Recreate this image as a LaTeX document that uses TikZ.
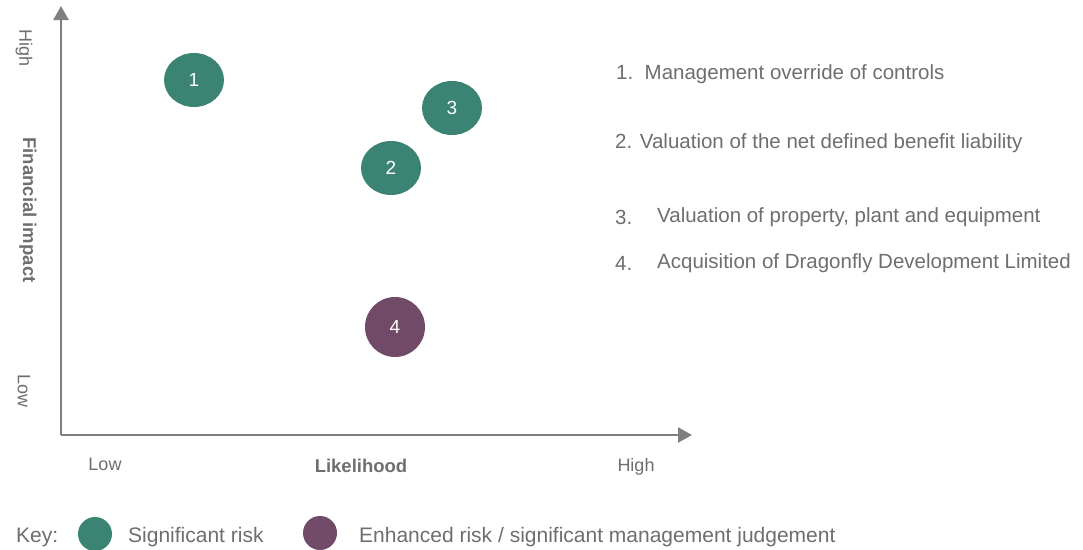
\documentclass[tikz,border=0pt]{standalone}
\usepackage{fontspec}
\setmainfont{Liberation Sans}
\usetikzlibrary{arrows.meta,shapes.geometric}
\definecolor{teal1}{HTML}{3B8373}
\definecolor{plum1}{HTML}{714A67}
\definecolor{axisgray}{HTML}{7F7F7F}
\definecolor{txtgray}{HTML}{6E6E6E}
\tikzset{
  axisline/.style={draw=axisgray, line width=2.5pt, -{Triangle[length=14pt,width=15pt]}},
  riskdot/.style={ellipse, minimum width=60pt, minimum height=54pt, inner sep=0pt, text=white, font=\fontsize{19}{19}\selectfont},
  sigrisk/.style={riskdot, fill=teal1},
  enhrisk/.style={riskdot, fill=plum1, minimum height=60pt},
  keydot/.style={ellipse, minimum width=34pt, minimum height=34pt, inner sep=0pt},
  axlabel/.style={text=txtgray, font=\fontsize{18}{18}\selectfont, inner sep=0pt},
  axtitle/.style={text=txtgray, font=\fontsize{18.5}{18.5}\selectfont\bfseries, inner sep=0pt},
  listtext/.style={text=txtgray, font=\fontsize{20.5}{20.5}\selectfont, anchor=west, inner sep=0pt},
  keytext/.style={text=txtgray, font=\fontsize{21}{21}\selectfont, anchor=west, inner sep=0pt}
}
\begin{document}
\begin{tikzpicture}[x=1pt,y=-1pt]
\useasboundingbox (0,0) rectangle (1083,549);
% axes
\coordinate (origin) at (61,435);
\coordinate (ytip) at (61,6);
\coordinate (xtip) at (692,435);
\draw[axisline] (origin) -- (ytip);
\draw[axisline] (origin) -- (xtip);
% axis labels
\node[axlabel, rotate=-90] (yhigh) at (24,48) {High};
\node[axtitle, rotate=-90] (ytitle) at (28,210) {Financial impact};
\node[axlabel, rotate=-90] (ylow) at (24,391) {Low};
\node[axlabel] (xlow) at (105,464) {Low};
\node[axtitle] (xtitle) at (361,466) {Likelihood};
\node[axlabel] (xhigh) at (636,467) {High};
% risks
\node[sigrisk] (r1) at (194,80) {1};
\node[sigrisk] (r3) at (452,108) {3};
\node[sigrisk] (r2) at (391,168) {2};
\node[enhrisk] (r4) at (395,327) {4};
% list
\node[listtext] (l1) at (616,74) {1.\ \ Management override of controls};
\node[listtext] (l2) at (615,143) {2. Valuation of the net defined benefit liability};
\node[listtext] (l3n) at (615,217) {3.};
\node[listtext] (l3) at (657,217) {Valuation of property, plant and equipment};
\node[listtext] (l4n) at (615,263) {4.};
\node[listtext] (l4) at (657,263) {Acquisition of Dragonfly Development Limited};
% key
\node[keytext] (key) at (16,537) {Key:};
\node[keydot, fill=teal1] (k1) at (95,534) {};
\node[keytext] (k1t) at (128,537) {Significant risk};
\node[keydot, fill=plum1] (k2) at (320,533) {};
\node[keytext] (k2t) at (359,537) {Enhanced risk / significant management judgement};
\end{tikzpicture}
\end{document}
